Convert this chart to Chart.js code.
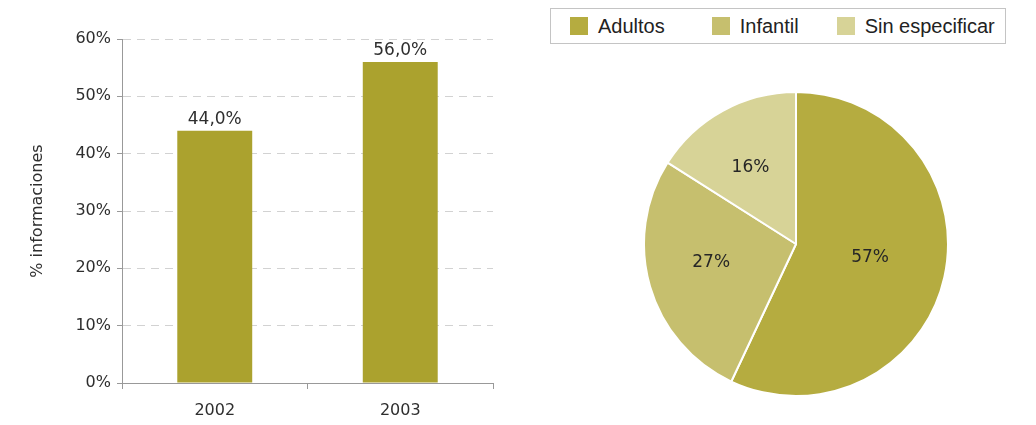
<!DOCTYPE html>
<html>
<head>
<meta charset="utf-8">
<script src="https://cdn.jsdelivr.net/npm/chart.js@4"></script>
<style>
  body { margin: 0; background: #fff; width: 1036px; height: 425px; position: relative; overflow: hidden; }
  #bar-wrap { position: absolute; left: 0; top: 0; width: 510px; height: 425px; }
  #pie-wrap { position: absolute; left: 643px; top: 91px; width: 306px; height: 306px; }
  #legend {
    position: absolute; left: 550px; top: 8px; width: 456px; height: 36px;
    border: 1px solid #c4c4c4; display: flex; align-items: center; padding-left: 19px;
    box-sizing: border-box; white-space: nowrap;
    font-family: "Liberation Sans", Arial, sans-serif; font-size: 20px; color: #222;
  }
  #legend .item { display: flex; align-items: center; }
  #legend .box { width: 18px; height: 18px; margin-right: 10px; }
</style>
</head>
<body>
<div id="bar-wrap"><canvas id="barChart"></canvas></div>
<div id="legend"></div>
<div id="pie-wrap"><canvas id="pieChart"></canvas></div>
<script>
const years = ['2002', '2003'];
const yearValues = [44.0, 56.0];
const yTicks = [0, 10, 20, 30, 40, 50, 60];

const pieLabels = ['Adultos', 'Infantil', 'Sin especificar'];
const pieValues = [57, 27, 16];
const pieColors = ['#b5ac40', '#c6bf6e', '#d7d397'];

const textColor = '#2e2e2e';
const fontFamily = '"DejaVu Sans", sans-serif';

function formatPct(v) {
    return v.toFixed(1).replace('.', ',') + '%';
}

// value labels above each bar
const barLabels = {
    id: 'barLabels',
    afterDatasetsDraw(chart) {
        const ctx = chart.ctx;
        const meta = chart.getDatasetMeta(0);
        ctx.save();
        ctx.font = '17px ' + fontFamily;
        ctx.fillStyle = textColor;
        ctx.textAlign = 'center';
        ctx.textBaseline = 'bottom';
        meta.data.forEach((bar, i) => {
            ctx.fillText(formatPct(yearValues[i]), bar.x, bar.y - 3);
        });
        ctx.restore();
    }
};

// percentage labels inside the slices
const sliceLabels = {
    id: 'sliceLabels',
    afterDatasetsDraw(chart) {
        const ctx = chart.ctx;
        const meta = chart.getDatasetMeta(0);
        ctx.save();
        ctx.font = '17px ' + fontFamily;
        ctx.fillStyle = '#262626';
        ctx.textAlign = 'center';
        ctx.textBaseline = 'middle';
        meta.data.forEach((arc, i) => {
            const mid = (arc.startAngle + arc.endAngle) / 2;
            const r = arc.outerRadius * 0.54;
            ctx.fillText(pieValues[i] + '%', arc.x + Math.cos(mid) * r - 6, arc.y + Math.sin(mid) * r - 4);
        });
        ctx.restore();
    }
};

new Chart(document.getElementById('barChart'), {
    type: 'bar',
    data: {
        labels: years,
        datasets: [{
            data: yearValues,
            backgroundColor: '#aba22e',
            borderWidth: 0,
            categoryPercentage: 1,
            barPercentage: 0.404
        }]
    },
    options: {
        responsive: true,
        maintainAspectRatio: false,
        animation: false,
        layout: { padding: { top: 39, right: 17, left: 0, bottom: 0 } },
        plugins: { legend: { display: false }, tooltip: { enabled: false } },
        scales: {
            x: {
                afterFit: s => { s.height = 42; },
                grid: { drawOnChartArea: false, drawTicks: true, tickLength: 6, color: '#999', offset: true },
                border: { color: '#999' },
                ticks: { color: textColor, font: { family: fontFamily, size: 16 }, padding: 12 }
            },
            y: {
                min: 0,
                max: 60,
                afterFit: s => { s.width = 122; },
                afterBuildTicks: s => { s.ticks = yTicks.map(v => ({ value: v })); },
                grid: { color: '#d2d2d2', tickBorderDash: [], tickColor: '#999', tickLength: 5 },
                border: { color: '#999', dash: [8, 6] },
                ticks: { color: textColor, font: { family: fontFamily, size: 16 }, padding: 6, callback: v => v + '%' },
                title: {
                    display: true,
                    text: '% informaciones',
                    color: textColor,
                    font: { family: fontFamily, size: 16 },
                    padding: { top: 28, bottom: 0 }
                }
            }
        }
    },
    plugins: [barLabels]
});

new Chart(document.getElementById('pieChart'), {
    type: 'pie',
    data: {
        labels: pieLabels,
        datasets: [{
            data: pieValues,
            backgroundColor: pieColors,
            borderColor: '#fff',
            borderWidth: 2
        }]
    },
    options: {
        responsive: true,
        maintainAspectRatio: false,
        animation: false,
        layout: { padding: 0 },
        plugins: { legend: { display: false }, tooltip: { enabled: false } }
    },
    plugins: [sliceLabels]
});

// boxed legend for the pie
const legend = document.getElementById('legend');
const itemGaps = [47, 38, 0];
pieLabels.forEach((name, i) => {
    const item = document.createElement('div');
    item.className = 'item';
    item.style.marginRight = itemGaps[i] + 'px';
    const box = document.createElement('span');
    box.className = 'box';
    box.style.background = pieColors[i];
    const txt = document.createElement('span');
    txt.textContent = name;
    item.appendChild(box);
    item.appendChild(txt);
    legend.appendChild(item);
});
</script>
</body>
</html>
